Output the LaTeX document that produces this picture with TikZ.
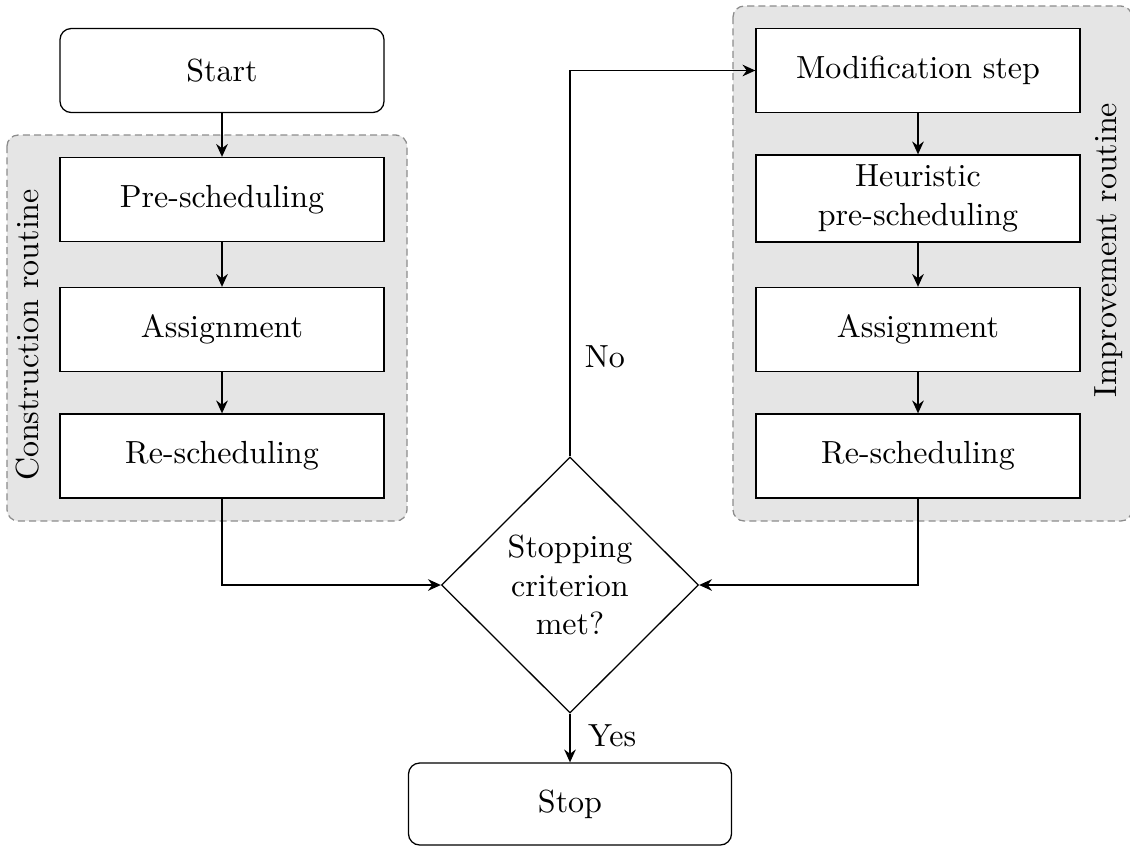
\documentclass[tikz,border=0pt]{standalone}
\usetikzlibrary{shapes.geometric,arrows.meta}
\begin{document}
\begin{tikzpicture}[x=0.3125pt,y=-0.3125pt,
  proc/.style={draw=black, fill=white, line width=0.4pt, minimum width=324*0.3125pt, minimum height=84*0.3125pt, align=center, inner sep=2pt},
  term/.style={proc, rounded corners=3.5pt},
  dec/.style={draw=black, line width=0.4pt, diamond, fill=white, aspect=1, minimum width=257*0.3125pt, minimum height=256*0.3125pt, inner sep=0pt, align=center},
  grp/.style={draw=gray!90, dash pattern=on 2.2pt off 1.3pt, line width=0.4pt, fill=black!10, rounded corners=3.5pt},
  arr/.style={-{Stealth[length=4pt,width=3.6pt]}, semithick},
  lbl/.style={inner sep=0pt}]
\useasboundingbox (0,0) rectangle (1130,846);
% groups
\path[grp] (7,135) rectangle (407,521);
\path[grp] (733,6) rectangle (1132,521);
\node[rotate=90, lbl] (clab) at (28,335) {Construction routine};
\node[rotate=90, lbl] (ilab) at (1109,250) {Improvement routine};
% left column
\node[term] (start) at (222,70.5) {Start};
\node[proc] (pre) at (222,199.5) {Pre-scheduling};
\node[proc] (asl) at (222,329.5) {Assignment};
\node[proc] (rsl) at (222,456) {Re-scheduling};
% right column
\node[proc] (mod) at (918,70.5) {Modification step};
\node[proc, minimum height=87*0.3125pt] (heur) at (918,198.5) {Heuristic\\pre-scheduling};
\node[proc] (asr) at (918,329.5) {Assignment};
\node[proc] (rsr) at (918,456) {Re-scheduling};
% decision and stop
\node[dec] (dec) at (570,585) {Stopping\\criterion\\met?};
\node[term, minimum width=323*0.3125pt, minimum height=82*0.3125pt] (stop) at (570,804) {Stop};
% connectors
\draw[arr] (start) -- (pre);
\draw[arr] (pre) -- (asl);
\draw[arr] (asl) -- (rsl);
\draw[arr] (mod) -- (heur);
\draw[arr] (heur) -- (asr);
\draw[arr] (asr) -- (rsr);
\draw[arr] (rsl.south) |- (dec.west);
\draw[arr] (rsr.south) |- (dec.east);
\draw[arr] (dec.north) |- (mod.west) node[pos=0.129, right, xshift=1pt] (no) {No};
\draw[arr] (dec.south) -- (stop.north) node[pos=0.45, right, xshift=2pt] (yes) {Yes};
\end{tikzpicture}
\end{document}
